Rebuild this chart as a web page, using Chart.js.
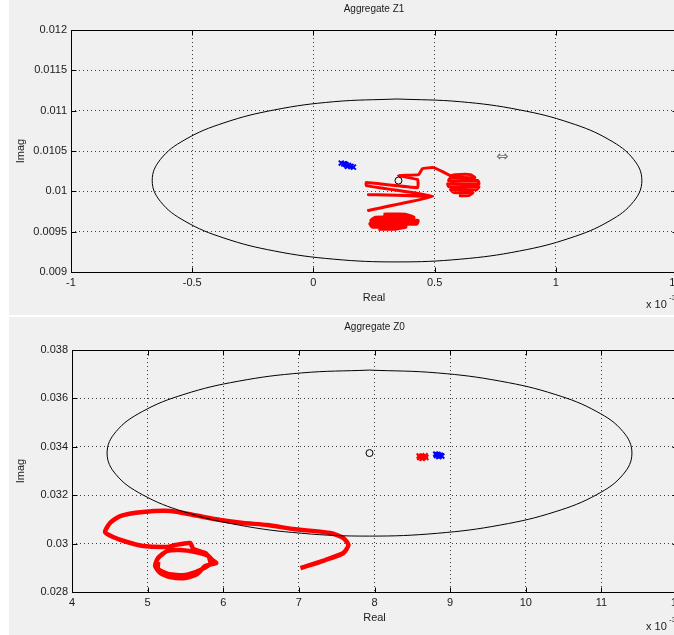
<!DOCTYPE html>
<html>
<head>
<meta charset="utf-8">
<script src="https://cdn.jsdelivr.net/npm/chart.js@4.4.0/dist/chart.umd.min.js"></script>
<style>
    body { margin: 0; width: 674px; height: 635px; overflow: hidden; background: #f0f0f0; position: relative; }
    #strip { position: absolute; left: 0; top: 0; width: 9px; height: 635px; background: #fff; }
    #sep { position: absolute; left: 0; top: 315px; width: 674px; height: 2px; background: #fff; }
    canvas { position: absolute; left: 9px; }
    #cz1 { top: 0; }
    #cz0 { top: 317px; }
    #cursor { position: absolute; left: 496px; top: 147px; font: 15px "DejaVu Sans"; color: #777; }
</style>
</head>
<body>
<div id="strip"></div>
<div id="sep"></div>
<canvas id="cz1" width="680" height="315"></canvas>
<canvas id="cz0" width="680" height="318"></canvas>
<div id="cursor">⇔</div>
<script>
// real axis values are in units of 1e-3 (as on the axes)

// ---- Aggregate Z1 ----
var z1EllipseX = [0.345, 0.084, -0.160, -0.369, -0.530, -0.631, -0.665, -0.631, -0.530, -0.369, -0.160, 0.084,
                  0.345, 0.606, 0.850, 1.059, 1.220, 1.321, 1.355, 1.321, 1.220, 1.059, 0.850, 0.606];
var z1EllipseY = [0.011145, 0.011111, 0.011010, 0.010849, 0.010640, 0.010396, 0.010135, 0.009874, 0.009630, 0.009421, 0.009260, 0.009159,
                  0.009125, 0.009159, 0.009260, 0.009421, 0.009630, 0.009874, 0.010135, 0.010396, 0.010640, 0.010849, 0.011010, 0.011111];
var z1CentreX = [0.351];
var z1CentreY = [0.010133];
var z1BlueX = [0.115, 0.125, 0.135, 0.145, 0.155, 0.165, 0.140, 0.130];
var z1BlueY = [0.01035, 0.01034, 0.01033, 0.01032, 0.01031, 0.01030, 0.01031, 0.01034];
var z1RedX = [0.222, 0.492, 0.227, 0.484, 0.218, 0.218, 0.430, 0.430, 0.351, 0.434, 0.450, 0.496, 0.533, 0.566,
              0.587, 0.649, 0.666, 0.566, 0.558, 0.679, 0.683, 0.554, 0.558, 0.683, 0.674, 0.566, 0.579, 0.658, 0.641, 0.600];
var z1RedY = [0.009761, 0.009934, 0.009959, 0.009947, 0.010071, 0.010108, 0.010046, 0.010145, 0.010195, 0.010207, 0.010282, 0.010294, 0.010244, 0.010195,
              0.010207, 0.010207, 0.010170, 0.010170, 0.010133, 0.010133, 0.010095, 0.010095, 0.010058, 0.010058, 0.010021, 0.010021, 0.009984, 0.009984, 0.009947, 0.009947];
var z1RedBlobX = [0.289, 0.380, 0.413, 0.256, 0.239, 0.430, 0.426, 0.235, 0.243, 0.380, 0.339, 0.268];
var z1RedBlobY = [0.009711, 0.009711, 0.009674, 0.009674, 0.009636, 0.009636, 0.009599, 0.009599, 0.009562, 0.009562, 0.009537, 0.009537];
var z1XTicks = [-1, 1.5, 0.5];
var z1YTicks = [0.009, 0.012, 0.0005];

// ---- Aggregate Z0 ----
var z0EllipseX = [7.934, 7.036, 6.199, 5.480, 4.929, 4.582, 4.464, 4.582, 4.929, 5.480, 6.199, 7.036,
                  7.934, 8.832, 9.669, 10.388, 10.939, 11.286, 11.404, 11.286, 10.939, 10.388, 9.669, 8.832];
var z0EllipseY = [0.03717, 0.037053, 0.036710, 0.036165, 0.035455, 0.034628, 0.03374, 0.032852, 0.032025, 0.031315, 0.030770, 0.030427,
                  0.03031, 0.030427, 0.030770, 0.031315, 0.032025, 0.032852, 0.03374, 0.034628, 0.035455, 0.036165, 0.036710, 0.037053];
var z0CentreX = [7.934];
var z0CentreY = [0.03374];
var z0BlueX = [8.81, 8.84, 8.87, 8.89, 8.85, 8.82];
var z0BlueY = [0.03370, 0.03368, 0.03365, 0.03362, 0.03360, 0.03364];
var z0RedDotX = [8.59, 8.62, 8.65, 8.68, 8.63, 8.60, 8.67];
var z0RedDotY = [0.03362, 0.03360, 0.03358, 0.03356, 0.03352, 0.03355, 0.03363];
var z0RedX = [7.020, 7.351, 7.589, 7.656, 7.589, 7.417, 6.927, 6.583, 6.265, 5.960, 5.603, 5.298, 4.940, 4.636, 4.503,
              4.437, 4.543, 4.728, 4.940, 5.258, 5.364, 5.563, 5.603, 5.762, 5.854, 5.907, 5.762, 5.656, 5.497, 5.298,
              5.166, 5.099, 5.139, 5.258, 5.430, 5.629, 5.801, 5.828, 5.695, 5.497, 5.272, 5.139, 5.139];
var z0RedY = [0.028992, 0.029322, 0.029612, 0.029942, 0.030231, 0.030438, 0.030603, 0.030769, 0.030851, 0.030975, 0.031182, 0.031347, 0.031306, 0.031140, 0.030851,
              0.030479, 0.030273, 0.030066, 0.029901, 0.029860, 0.029942, 0.030025, 0.029777, 0.029612, 0.029322, 0.029198, 0.029074, 0.028744, 0.028579, 0.028620,
              0.028785, 0.029074, 0.029405, 0.029694, 0.029736, 0.029653, 0.029488, 0.029157, 0.028909, 0.028702, 0.028744, 0.028950, 0.029240];
var z0XTicks = [4, 12, 1];
var z0YTicks = [0.028, 0.038, 0.002];

var FONT = '"Liberation Sans", Arial, sans-serif';
var INK = '#1a1a1a';

function pts(xs, ys) {
    var out = [];
    for (var i = 0; i < xs.length; i++) {
        out.push({ x: xs[i], y: ys[i] });
    }
    return out;
}

// closed loop: back to the first point
function loop(xs, ys) {
    var p = pts(xs, ys);
    return p.concat([p[0]]);
}

// matlab style box, inward ticks and the "x 10^-3" multiplier
var matlabBox = {
    id: 'matlabBox',
    afterDraw: function (chart, args, opts) {
        var ctx = chart.ctx;
        var a = chart.chartArea;
        var sx = chart.scales.x, sy = chart.scales.y;
        var l = Math.round(a.left) + 0.5, r = Math.round(a.right) + 0.5;
        var t = Math.round(a.top) + 0.5, b = Math.round(a.bottom) + 0.5;
        ctx.save();
        ctx.strokeStyle = '#000';
        ctx.lineWidth = 1;
        ctx.strokeRect(l, t, r - l, b - t);
        ctx.beginPath();
        sx.ticks.forEach(function (tk) {
            var px = Math.round(sx.getPixelForValue(tk.value)) + 0.5;
            ctx.moveTo(px, b); ctx.lineTo(px, b - 5);
            ctx.moveTo(px, t); ctx.lineTo(px, t + 5);
        });
        sy.ticks.forEach(function (tk) {
            var py = Math.round(sy.getPixelForValue(tk.value)) + 0.5;
            ctx.moveTo(l, py); ctx.lineTo(l + 5, py);
            ctx.moveTo(r, py); ctx.lineTo(r - 5, py);
        });
        ctx.stroke();
        ctx.fillStyle = INK;
        ctx.textBaseline = 'alphabetic';
        ctx.font = '11px ' + FONT;
        ctx.fillText('x 10', a.right - 31, a.bottom + opts.expY);
        ctx.font = '8px ' + FONT;
        ctx.fillText('-3', a.right - 8, a.bottom + opts.expY - 8);
        ctx.restore();
    }
};

function makeChart(id, title, xt, yt, sets, box) {
    var config = {
        type: 'scatter',
        data: { datasets: sets },
        plugins: [matlabBox],
        options: {
            responsive: false,
            animation: false,
            devicePixelRatio: 1,
            layout: { padding: { left: 0, right: box.padRight, top: 0, bottom: 0 } },
            plugins: {
                legend: { display: false },
                tooltip: { enabled: false },
                title: {
                    display: true,
                    text: title,
                    fullSize: false,
                    color: INK,
                    font: { family: FONT, size: 10, lineHeight: 1.1, weight: 'normal' },
                    padding: { top: box.titleTop, bottom: box.titleBottom }
                },
                matlabBox: { expY: box.expY }
            },
            scales: {
                x: {
                    type: 'linear',
                    min: xt[0], max: xt[1],
                    afterFit: function (s) { s.height = box.xHeight; },
                    ticks: {
                        stepSize: xt[2], autoSkip: false, maxRotation: 0, padding: 4,
                        color: INK, font: { family: FONT, size: 11 },
                        callback: function (v) { return String(+v.toFixed(6)); }
                    },
                    grid: { color: 'rgba(0,0,0,0.75)', lineWidth: 1, drawTicks: false },
                    border: { display: false, dash: [1, 3] },
                    title: {
                        display: true, text: 'Real', color: INK,
                        font: { family: FONT, size: 11, lineHeight: 1 },
                        padding: { top: 0, bottom: 11.5 }
                    }
                },
                y: {
                    type: 'linear',
                    min: yt[0], max: yt[1],
                    afterFit: function (s) { s.width = box.yWidth; },
                    ticks: {
                        stepSize: yt[2], autoSkip: false, padding: 4,
                        color: INK, font: { family: FONT, size: 11 },
                        callback: function (v) { return String(+v.toFixed(6)); }
                    },
                    grid: { color: 'rgba(0,0,0,0.75)', lineWidth: 1, drawTicks: false },
                    border: { display: false, dash: [1, 3] },
                    title: {
                        display: true, text: 'Imag', color: INK,
                        font: { family: FONT, size: 11, lineHeight: 1 },
                        padding: { top: 6, bottom: 0 }
                    }
                }
            }
        }
    };
    return new Chart(document.getElementById(id), config);
}

function lineSet(data, color, width, order, tension) {
    return { data: data, showLine: true, borderColor: color, borderWidth: width, pointRadius: 0,
             tension: tension, fill: false, order: order };
}

function crossSet(data, color, order) {
    return { data: data, showLine: false, pointStyle: 'crossRot', pointRadius: 3.5,
             borderColor: color, borderWidth: 2, order: order };
}

function circleSet(data) {
    return { data: data, showLine: false, pointStyle: 'circle', pointRadius: 3.5,
             borderColor: '#000', backgroundColor: 'rgba(0,0,0,0)', borderWidth: 1, order: 0 };
}

makeChart('cz1', 'Aggregate Z1', z1XTicks, z1YTicks, [
    circleSet(pts(z1CentreX, z1CentreY)),
    lineSet(loop(z1EllipseX, z1EllipseY), '#000', 1, 1, 0.4),
    crossSet(pts(z1BlueX, z1BlueY), 'rgb(0,0,255)', 2),
    lineSet(pts(z1RedX, z1RedY), 'rgb(255,0,0)', 3, 3, 0.1),
    lineSet(pts(z1RedBlobX, z1RedBlobY), 'rgb(255,0,0)', 4, 3, 0.1)
], { padRight: 12, titleTop: 4, titleBottom: 15, expY: 36, xHeight: 43, yWidth: 62 });

makeChart('cz0', 'Aggregate Z0', z0XTicks, z0YTicks, [
    circleSet(pts(z0CentreX, z0CentreY)),
    lineSet(loop(z0EllipseX, z0EllipseY), '#000', 1, 1, 0.4),
    crossSet(pts(z0BlueX, z0BlueY), 'rgb(0,0,255)', 2),
    crossSet(pts(z0RedDotX, z0RedDotY), 'rgb(255,0,0)', 2),
    lineSet(pts(z0RedX, z0RedY), 'rgb(255,0,0)', 4.5, 3, 0.2)
], { padRight: 12, titleTop: 5, titleBottom: 17, expY: 38, xHeight: 43, yWidth: 63 });
</script>
</body>
</html>
